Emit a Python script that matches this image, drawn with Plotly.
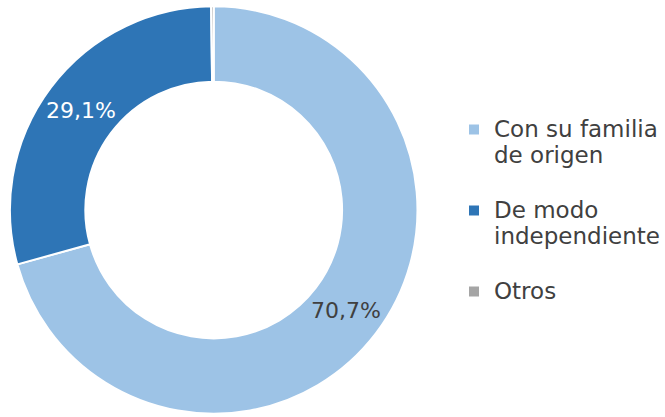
import plotly.graph_objects as go

legend_names = ["Con su familia<br>de origen", "De modo<br>independiente", "Otros"]
values = [70.7, 29.1, 0.2]
text_labels = ["70,7%", "29,1%", ""]
colors = ["#9DC3E6", "#2E75B6", "#A5A5A5"]
text_colors = ["#404040", "#FFFFFF", "#404040"]

W, H = 665, 417


def big(s):
    parts = s.split("<br>")
    return "<br>".join(f"<span style='font-size:23px'>{p}</span>" for p in parts) + "<br> "


labels = [big(s) for s in legend_names]

fig = go.Figure(go.Pie(
    labels=labels,
    values=values,
    text=text_labels,
    textinfo="text",
    textposition="inside",
    insidetextorientation="horizontal",
    insidetextfont=dict(color=text_colors, size=22, family="DejaVu Sans"),
    marker=dict(colors=colors, line=dict(color="white", width=2)),
    hole=0.63,
    sort=False,
    direction="clockwise",
    rotation=0,
    hoverinfo="percent",
    domain=dict(x=[10 / W, 420 / W], y=[2 / H, 412 / H]),
))

fig.update_layout(
    width=W, height=H,
    margin=dict(l=0, r=0, t=0, b=0),
    paper_bgcolor="white",
    plot_bgcolor="white",
    showlegend=True,
    legend=dict(
        x=457 / W, y=1 - 110 / H, xanchor="left", yanchor="top",
        font=dict(family="DejaVu Sans", size=20, color="#404040"),
        valign="top",
        itemwidth=30,
    ),
)

fig.write_html("out.html", config={"displayModeBar": False},
               post_script="document.body.style.margin='0';")
